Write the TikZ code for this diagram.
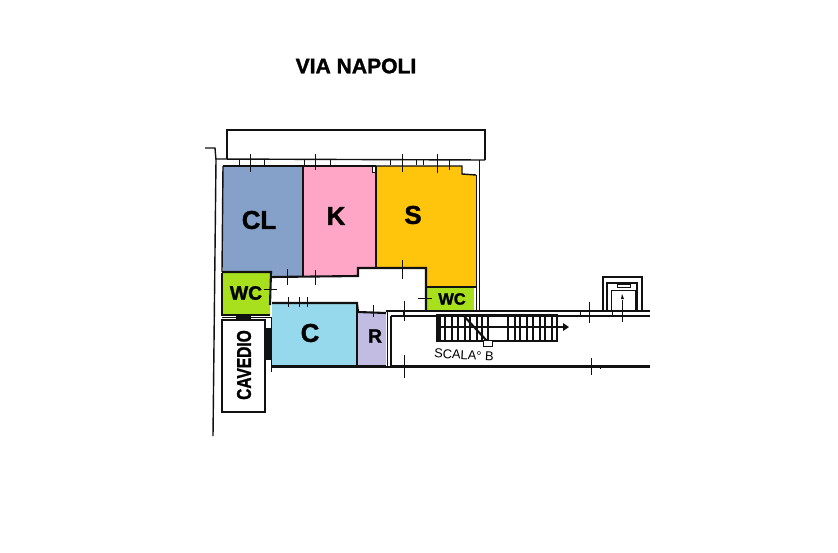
\documentclass[tikz,border=0pt]{standalone}
\usepackage{xcolor}
\usepackage{fontspec}
\setmainfont{Liberation Sans}
\newfontfamily\heavyfont[FakeBold=1.5]{Liberation Sans Bold}
\usetikzlibrary{arrows.meta, positioning}
\definecolor{roomcl}{HTML}{86A1C9}
\definecolor{roomk}{HTML}{FFA6C6}
\definecolor{rooms}{HTML}{FFC40C}
\definecolor{roomwc}{HTML}{A8E01E}
\definecolor{roomc}{HTML}{96D8EC}
\definecolor{roomr}{HTML}{C3BCE2}
\definecolor{inkline}{HTML}{111111}
\begin{document}
\begin{tikzpicture}[x=0.03cm, y=-0.03cm,
  wall/.style={draw=inkline, line width=1.2pt},
  thinwall/.style={draw=inkline, line width=0.8pt},
  heavywall/.style={draw=inkline, line width=1.8pt},
  tick/.style={draw=inkline, line width=0.7pt},
  stair/.style={draw=inkline, line width=1pt},
  roomlabel/.style={font=\fontsize{22}{22}\selectfont\heavyfont, text=black, inner sep=0pt},
  wclabel/.style={font=\fontsize{16.5}{16.5}\selectfont\heavyfont, text=black, inner sep=0pt}
]
  \useasboundingbox[fill=white] (0,0) rectangle (838,552);

  \fill[roomcl] (223,166) -- (303,166) -- (303,276) -- (273,277) -- (271,272) -- (223,272) -- cycle;
  \fill[roomk] (303,166) -- (376,166) -- (376,268) -- (358,268) -- (358,276) -- (303,276) -- cycle;
  \fill[rooms] (376,166) -- (462,166) -- (462,174) -- (476,175) -- (476,287) -- (426,287) -- (426,268) -- (376,268) -- cycle;
  \fill[roomwc] (222,273) -- (271,273) -- (270,315) -- (222,315) -- cycle;
  \fill[roomwc] (426,288) -- (474,288) -- (474,310) -- (426,310) -- cycle;
  \fill[roomc] (272,303) -- (357,303) -- (357,366) -- (272,366) -- cycle;
  \fill[roomr] (357,312) -- (386,313) -- (386,366) -- (357,366) -- cycle;

  \draw[wall] (227,159) -- (227,130) -- (485,130) -- (485,160);
  \draw[wall] (216,159) -- (485,160);
  \draw[wall] (205,148) -- (215,148) -- (216,160) -- (213,436);
  \draw[thinwall] (479,160) -- (479,311);
  \draw[thinwall] (476,175) -- (476,310);

  \draw[heavywall] (223,166) -- (376,166);
  \draw[thinwall, fill=white] (372,166) rectangle (376,172);
  \draw[wall] (376,166) -- (462,166) -- (462,174) -- (476,175);
  \draw[wall] (223,166) -- (222,272);
  \draw[heavywall] (303,166) -- (303,276);
  \draw[heavywall] (376,166) -- (376,268);
  \draw[heavywall] (222,272) -- (271,272) -- (270,305);
  \draw[heavywall] (271,277) -- (358,276) -- (358,268) -- (426,268) -- (426,310);
  \draw[heavywall] (426,287) -- (476,287);
  \draw[heavywall] (272,303) -- (357,303) -- (358,312) -- (386,313);
  \draw[wall] (357,303) -- (357,367);
  \draw[wall] (222,273) -- (222,315) -- (270,315);
  \draw[thinwall] (222,317) -- (271,317) -- (271,367);
  \fill[inkline] (236,315) rectangle (251,320);
  \fill[inkline] (266,328) rectangle (272,360);
  \draw[wall, fill=white] (222,320) rectangle (265,412);
  \draw[heavywall] (271,367) -- (386,367);
  \draw[thinwall] (272,365) -- (386,365);

  \draw[wall] (386,311) -- (650,311);
  \draw[wall] (391,316) -- (650,316);
  \draw[thinwall] (387,311) -- (387,367);
  \draw[wall] (391,316) -- (391,366);
  \draw[wall] (386,367) -- (650,367);
  \draw[thinwall] (391,365) -- (650,365);

  \draw[stair] (436,315) -- (558,315);
  \draw[stair] (436,341) -- (558,341);
  \draw[stair] (436,327) -- (565,327);
  \fill[inkline] (436,315) rectangle (441,342);
  \foreach \px in {445,452,458,465,470,477,482,488}
    \draw[stair] (\px,315) -- (\px,342);
  \foreach \px in {508,515,520,527,533,540,545,552,557}
    \draw[stair] (\px,315) -- (\px,342);
  \draw[heavywall] (463,315) -- (487,341);
  \fill[inkline] (563,323) -- (569,327) -- (563,331) -- cycle;
  \draw[thinwall, fill=white] (483,340) rectangle (492,346);

  \draw[wall] (650,311) -- (642,311) -- (642,277) -- (603,277) -- (603,311);
  \draw[wall] (607,311) -- (607,283) -- (637,283) -- (637,311);
  \draw[thinwall] (611,290) rectangle (635,310);
  \draw[thinwall] (617,284) rectangle (630,287);
  \fill[inkline] (621,299) -- (622,294) -- (624,299) -- cycle;

  \foreach \px/\ya/\yb in {250/154/172, 315/154/170, 402/154/172, 437/154/173, 449/160/170,
      239/160/165, 264/160/165, 304/160/165, 330/160/165, 390/160/165, 416/160/165, 423/160/165,
      287/269/285, 315/270/285, 402/260/279, 288/297/307, 299/297/307, 307/297/307,
      373/305/317, 404/301/321, 404/355/378, 589/302/323, 591/358/375, 622/300/322,
      600/365/369, 271/360/372, 403/311/316, 580/311/316, 612/311/316}
    \draw[tick] (\px,\ya) -- (\px,\yb);
  \foreach \py/\xa/\xb in {289/264/277, 298/418/432}
    \draw[tick] (\xa,\py) -- (\xb,\py);

  \node[font=\fontsize{18}{18}\selectfont\heavyfont, inner sep=0pt] (title) at (356,66) {VIA NAPOLI};
  \node[roomlabel] (labelcl) at (259,220) {CL};
  \node[roomlabel] (labelk) at (336,216) {K};
  \node[roomlabel] (labels) at (413,215) {S};
  \node[wclabel] (labelwca) at (246,293) {WC};
  \node[wclabel, font=\fontsize{14}{14}\selectfont\heavyfont] (labelwcb) at (452,299) {WC};
  \node[roomlabel] (labelc) at (310,333) {C};
  \node[roomlabel, font=\fontsize{16.5}{16.5}\selectfont\heavyfont] (labelr) at (375,336) {R};
  \node[font=\fontsize{17}{17}\selectfont\heavyfont, inner sep=0pt, rotate=90, xscale=0.78] (labelcav) at (244,365) {CAVEDIO};
  \node[font=\fontsize{11}{11}\selectfont, inner sep=0pt, rotate=-3] (labelscala) at (464,355) {SCALA° B};
\end{tikzpicture}
\end{document}
